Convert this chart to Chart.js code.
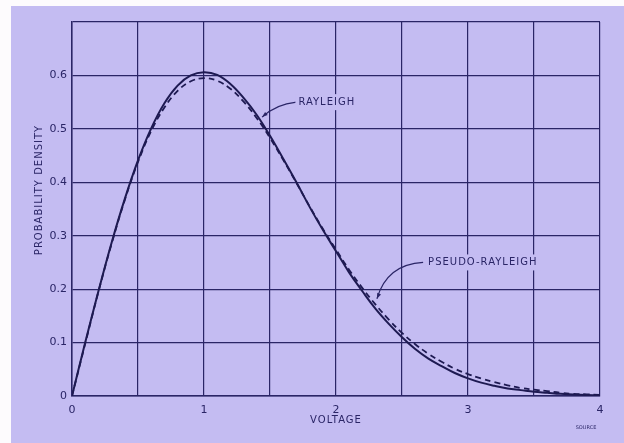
<!DOCTYPE html>
<html>
<head>
<meta charset="utf-8">
<script src="https://cdn.jsdelivr.net/npm/chart.js@4/dist/chart.umd.min.js"></script>
<style>
  html, body { margin: 0; padding: 0; background: #fdfbfd; }
  canvas { display: block; }
</style>
</head>
<body>
<canvas id="chart" width="624" height="443"></canvas>
<script>
// ---- Data (voltage steps of 0.1) ----
const voltage = [
  0.0, 0.1, 0.2, 0.3, 0.4, 0.5, 0.6, 0.7, 0.8, 0.9,
  1.0, 1.1, 1.2, 1.3, 1.4, 1.5, 1.6, 1.7, 1.8, 1.9,
  2.0, 2.1, 2.2, 2.3, 2.4, 2.5, 2.6, 2.7, 2.8, 2.9,
  3.0, 3.1, 3.2, 3.3, 3.4, 3.5, 3.6, 3.7, 3.8, 3.9, 4.0
];
const rayleigh = [
  0.000, 0.100, 0.196, 0.287, 0.369, 0.441, 0.501, 0.548, 0.581, 0.600,
  0.606, 0.601, 0.584, 0.558, 0.526, 0.487, 0.444, 0.400, 0.354, 0.311,
  0.271, 0.231, 0.196, 0.163, 0.135, 0.110, 0.088, 0.070, 0.056, 0.043,
  0.033, 0.025, 0.019, 0.014, 0.011, 0.008, 0.006, 0.004, 0.003, 0.002, 0.001
];
const pseudoRayleigh = [
  0.000, 0.098, 0.195, 0.285, 0.367, 0.438, 0.496, 0.540, 0.571, 0.589,
  0.595, 0.590, 0.575, 0.551, 0.520, 0.483, 0.442, 0.399, 0.355, 0.313,
  0.274, 0.236, 0.202, 0.171, 0.143, 0.118, 0.097, 0.079, 0.064, 0.051,
  0.041, 0.033, 0.026, 0.020, 0.015, 0.012, 0.009, 0.006, 0.004, 0.003, 0.002
];
const yTicks = ['0', '0.1', '0.2', '0.3', '0.4', '0.5', '0.6'];
const xTicks = ['0', '1', '2', '3', '4'];

const INK = '#2a2566';
const PAPER = '#c4bcf2';
const FONT = '"DejaVu Sans", sans-serif';

const toPoints = ys => voltage.map((x, i) => ({ x, y: ys[i] }));

// label on a patch of paper, so the grid lines stop at the lettering
function maskedText(ctx, txt, x, y) {
  const w = ctx.measureText(txt).width;
  ctx.save();
  ctx.fillStyle = PAPER;
  ctx.fillRect(x - 3, y - 8, w + 6, 16);
  ctx.restore();
  ctx.fillText(txt, x, y);
}

// ---- Paper background, labels and leader lines ----
const paperPlugin = {
  id: 'paper',
  beforeDraw(chart) {
    const { ctx, width, height } = chart;
    ctx.save();
    ctx.fillStyle = PAPER;
    ctx.fillRect(11, 6, width - 11, height - 6);
    ctx.restore();
  },
  afterDatasetsDraw(chart) {
    const { ctx, scales: { x, y } } = chart;
    ctx.save();
    ctx.fillStyle = INK;
    ctx.strokeStyle = INK;
    ctx.lineWidth = 1.2;
    ctx.font = '10px ' + FONT;
    ctx.letterSpacing = '1px';
    ctx.textBaseline = 'middle';
    ctx.textAlign = 'left';

    // RAYLEIGH label + leader
    const r0 = { px: x.getPixelForValue(1.44), py: y.getPixelForValue(0.522) };
    const r1 = { px: x.getPixelForValue(1.70), py: y.getPixelForValue(0.550) };
    ctx.beginPath();
    ctx.moveTo(r1.px, r1.py);
    ctx.quadraticCurveTo(r0.px + 14, r1.py + 2, r0.px, r0.py);
    ctx.stroke();
    arrowHead(ctx, r0.px + 6, r0.py - 5, r0.px, r0.py);
    maskedText(ctx, 'RAYLEIGH', r1.px + 2, r1.py);

    // PSEUDO-RAYLEIGH label + leader
    const p0 = { px: x.getPixelForValue(2.31), py: y.getPixelForValue(0.182) };
    const p1 = { px: x.getPixelForValue(2.66), py: y.getPixelForValue(0.250) };
    ctx.beginPath();
    ctx.moveTo(p1.px, p1.py);
    ctx.quadraticCurveTo(p0.px + 10, p1.py + 2, p0.px, p0.py);
    ctx.stroke();
    arrowHead(ctx, p0.px + 3, p0.py - 7, p0.px, p0.py);
    maskedText(ctx, 'PSEUDO-RAYLEIGH', p1.px + 5, p1.py);

    // axis titles
    ctx.textAlign = 'center';
    ctx.fillText('VOLTAGE', (x.left + x.right) / 2, 420);
    ctx.save();
    ctx.translate(39, 190);
    ctx.rotate(-Math.PI / 2);
    ctx.fillText('PROBABILITY DENSITY', 0, 0);
    ctx.restore();

    ctx.font = '5px ' + FONT;
    ctx.letterSpacing = '0px';
    ctx.fillText('SOURCE', 586, 428);
    ctx.restore();
  }
};

function arrowHead(ctx, fx, fy, tx, ty) {
  const a = Math.atan2(ty - fy, tx - fx);
  const len = 6;
  ctx.beginPath();
  ctx.moveTo(tx, ty);
  ctx.lineTo(tx - len * Math.cos(a - 0.35), ty - len * Math.sin(a - 0.35));
  ctx.lineTo(tx - len * Math.cos(a + 0.35), ty - len * Math.sin(a + 0.35));
  ctx.closePath();
  ctx.fill();
}

new Chart(document.getElementById('chart'), {
  type: 'line',
  data: {
    datasets: [
      {
        label: 'Rayleigh',
        data: toPoints(rayleigh),
        borderColor: '#1e1a52',
        borderWidth: 2,
        pointRadius: 0,
        tension: 0.4,
        fill: false
      },
      {
        label: 'Pseudo-Rayleigh',
        data: toPoints(pseudoRayleigh),
        borderColor: '#1e1a52',
        borderWidth: 1.8,
        borderDash: [6, 4],
        pointRadius: 0,
        tension: 0.4,
        fill: false
      }
    ]
  },
  options: {
    responsive: false,
    animation: false,
    layout: { padding: { top: 22, right: 24, left: 0, bottom: 0 } },
    plugins: {
      legend: { display: false },
      tooltip: { enabled: false }
    },
    scales: {
      x: {
        type: 'linear',
        min: 0,
        max: 4,
        afterFit: s => { s.height = 47; },
        afterBuildTicks: s => { s.ticks = [0, 0.5, 1, 1.5, 2, 2.5, 3, 3.5, 4].map(v => ({ value: v })); },
        grid: { color: INK, lineWidth: 1.2, drawTicks: false },
        border: { color: INK, width: 1.5 },
        ticks: {
          padding: 8,
          color: INK,
          font: { family: FONT, size: 11 },
          maxRotation: 0,
          autoSkip: false,
          callback: v => (Number.isInteger(v) ? xTicks[v] : '')
        }
      },
      y: {
        min: 0,
        max: 0.7,
        afterFit: s => { s.width = 72; },
        afterBuildTicks: s => { s.ticks = [0, 0.1, 0.2, 0.3, 0.4, 0.5, 0.6, 0.7].map(v => ({ value: v })); },
        grid: { color: INK, lineWidth: 1.2, drawTicks: false },
        border: { color: INK, width: 1.5 },
        ticks: {
          padding: 5,
          color: INK,
          font: { family: FONT, size: 11 },
          autoSkip: false,
          callback: (v, i) => (yTicks[i] !== undefined ? yTicks[i] : '')
        }
      }
    }
  },
  plugins: [paperPlugin]
});
</script>
</body>
</html>
